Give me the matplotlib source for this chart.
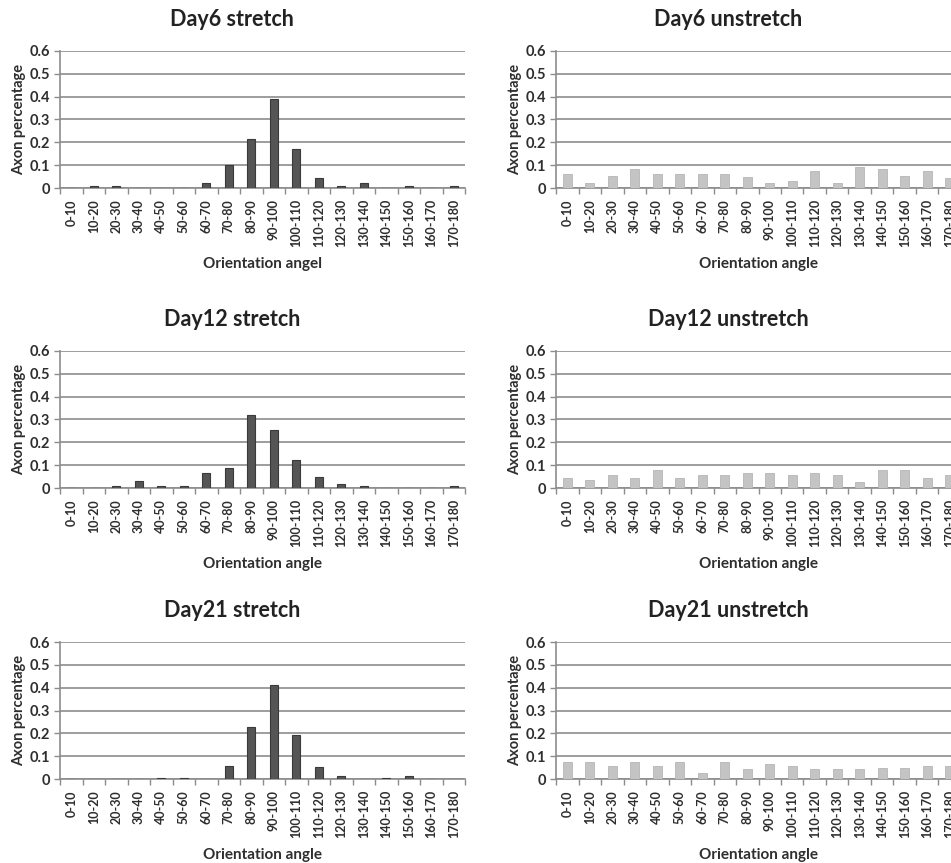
import matplotlib
matplotlib.use("Agg")
import matplotlib.pyplot as plt
import numpy as np

plt.rcParams['font.family'] = ['Lato', 'DejaVu Sans']

categories = ['0-10', '10-20', '20-30', '30-40', '40-50', '50-60', '60-70', '70-80', '80-90',
              '90-100', '100-110', '110-120', '120-130', '130-140', '140-150', '150-160',
              '160-170', '170-180']

day6_stretch = [0, 0.01, 0.01, 0, 0, 0, 0.02, 0.10, 0.215, 0.39, 0.17, 0.042, 0.01, 0.02,
                0, 0.01, 0, 0.01]
day6_unstretch = [0.063, 0.022, 0.053, 0.084, 0.062, 0.062, 0.062, 0.062, 0.05, 0.02, 0.03,
                  0.075, 0.02, 0.09, 0.084, 0.052, 0.075, 0.044]
day12_stretch = [0, 0, 0.01, 0.03, 0.01, 0.01, 0.065, 0.087, 0.32, 0.253, 0.121, 0.047,
                 0.018, 0.01, 0, 0, 0, 0.01]
day12_unstretch = [0.043, 0.034, 0.057, 0.043, 0.078, 0.043, 0.057, 0.057, 0.064, 0.064,
                   0.057, 0.064, 0.057, 0.026, 0.078, 0.078, 0.043, 0.055]
day21_stretch = [0, 0, 0, 0, 0.003, 0.003, 0, 0.056, 0.226, 0.413, 0.191, 0.051, 0.014, 0,
                 0.003, 0.014, 0, 0]
day21_unstretch = [0.074, 0.074, 0.056, 0.074, 0.056, 0.074, 0.026, 0.074, 0.042, 0.065,
                   0.056, 0.042, 0.042, 0.042, 0.048, 0.048, 0.056, 0.056]

W, H = 951, 863
fig = plt.figure(figsize=(W / 100, H / 100), dpi=100)

txt = '#2e2e2e'
grid_c = '#8c8c8c'


def panel(left_px, top_px, values, title, title_x, xlabel, dark):
    # one Excel-style bar chart; axes box given in pixels of the final image
    ax = fig.add_axes([left_px / W, 1 - (top_px + 137) / H, 405 / W, 137 / H])
    x = np.arange(len(categories))
    if dark:
        ax.bar(x, values, width=0.36, color='#555555', edgecolor='#3a3a3a', linewidth=0.8, zorder=3)
    else:
        ax.bar(x, values, width=0.42, color='#c4c4c4', edgecolor='#b5b5b5', linewidth=0.6, zorder=3)
    ax.set_xlim(-0.5, len(categories) - 0.5)
    ax.set_ylim(0, 0.6)
    ax.set_yticks([0, 0.1, 0.2, 0.3, 0.4, 0.5, 0.6])
    ax.set_yticklabels(['0', '0.1', '0.2', '0.3', '0.4', '0.5', '0.6'],
                       fontsize=10.5, fontweight='bold', color=txt)
    ax.yaxis.grid(True, color=grid_c, linewidth=1.2, zorder=0)
    ax.set_xticks(x)
    ax.set_xticklabels(categories, rotation=90, fontsize=9, fontweight='bold', color=txt)
    ax.set_xticks(np.arange(len(categories) + 1) - 0.5, minor=True)
    ax.tick_params(axis='x', which='major', length=0, pad=8)
    ax.tick_params(axis='x', which='minor', length=4, color=grid_c, width=1)
    ax.tick_params(axis='y', length=4, color=grid_c, width=1, pad=3)
    for s in ['top', 'right']:
        ax.spines[s].set_visible(False)
    ax.spines['left'].set_color(grid_c)
    ax.spines['bottom'].set_color(grid_c)
    ax.spines['left'].set_linewidth(1.2)
    ax.spines['bottom'].set_linewidth(1.2)
    ax.set_ylabel('Axon percentage', fontsize=10.5, fontweight='bold', color=txt, labelpad=3)
    ax.set_xlabel(xlabel, fontsize=11, fontweight='bold', color=txt, labelpad=7)
    fig.text(title_x / W, 1 - (top_px - 32) / H, title, ha='center', va='center',
             fontsize=15.5, fontweight='bold', color='#222222')
    return ax


panel(60, 51, day6_stretch, 'Day6 stretch', 232, 'Orientation angel', True)
panel(556, 51, day6_unstretch, 'Day6 unstretch', 728, 'Orientation angle', False)
panel(60, 351, day12_stretch, 'Day12 stretch', 232, 'Orientation angle', True)
panel(556, 351, day12_unstretch, 'Day12 unstretch', 728, 'Orientation angle', False)
panel(60, 642, day21_stretch, 'Day21 stretch', 232, 'Orientation angle', True)
panel(556, 642, day21_unstretch, 'Day21 unstretch', 728, 'Orientation angle', False)

fig.savefig('out.png', dpi=100, facecolor='white')
